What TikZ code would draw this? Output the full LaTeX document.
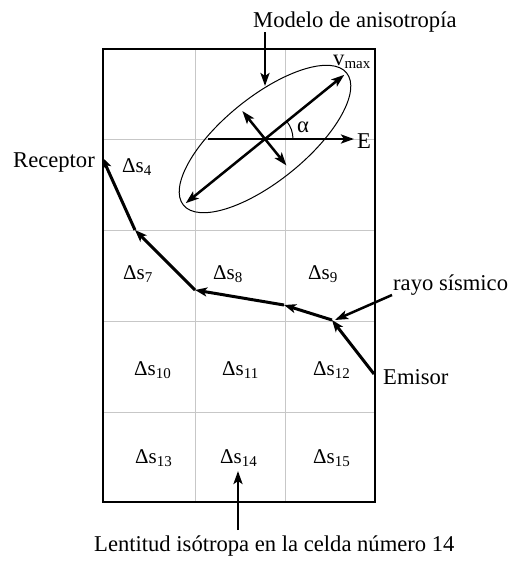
\documentclass[tikz,border=0pt]{standalone}
\usepackage{fontspec}
\setmainfont{Liberation Serif}
\usetikzlibrary{arrows.meta,calc,shapes.geometric}
\newcommand\csub[1]{\raisebox{-3pt}{\fontsize{15}{15}\selectfont #1}}
\begin{document}
\begin{tikzpicture}[x=1pt,y=-1pt,
  lbl/.style={inner sep=0pt, anchor=base west, font=\fontsize{22.6}{27}\selectfont},
  cel/.style={inner sep=0pt, anchor=base west, font=\fontsize{21}{25}\selectfont},
  gridline/.style={draw=black!22, line width=1pt},
  border/.style={draw=black, line width=1.5pt},
  tipped/.style={line width=2.5pt, -{Stealth[length=13pt,width=9pt,inset=3pt]}},
  dbl/.style={line width=2.5pt, {Stealth[length=13pt,width=9pt,inset=3pt]}-{Stealth[length=13pt,width=9pt,inset=3pt]}},
  ray/.style={line width=3pt, -{Stealth[length=12pt,width=9pt,inset=3pt]}},
  thin/.style={line width=1pt},
]
\useasboundingbox (0,0) rectangle (512,563);
% grid
\foreach \gx in {195,285} \draw[gridline] (\gx,49) -- (\gx,502);
\foreach \gy in {139,230,321,412} \draw[gridline] (103,\gy) -- (376,\gy);
\draw[border] (103,49) rectangle (375,502);
% ellipse model
\coordinate (C) at (265,139);
\node[ellipse, draw, thin, minimum width=210pt, minimum height=84pt, inner sep=0pt, rotate=39] (ell) at (C) {};
\coordinate (maj1) at ($(C)+(39:102pt)$);
\coordinate (maj2) at ($(C)+(219:102pt)$);
\coordinate (min1) at ($(C)+(129:36pt)$);
\coordinate (min2) at ($(C)+(309:34pt)$);
\draw[dbl] (maj2) -- (maj1);
\draw[dbl] (min1) -- (min2);
\coordinate (e1) at (208,139);
\coordinate (e2) at (354,139);
\draw[tipped] (e1) -- (e2);
\draw[thin] ($(C)+(0:28pt)$) arc[start angle=0, end angle=39, radius=28pt];
\node[lbl] (alpha) at (297,132) {α};
\node[lbl] (E) at (357,148) {E};
\node[lbl] (vmax) at (333,65) {v\csub{max}};
% top label
\node[lbl] (modelo) at (253,27) {Modelo de anisotropía};
\coordinate (mtop) at (265,32);
\coordinate (mtip) at (265,86);
\draw[tipped] (mtop) -- (mtip);
% ray path
\coordinate (p0) at (374,374);
\coordinate (p1) at (332,320);
\coordinate (p2) at (284,305);
\coordinate (p3) at (195,290);
\coordinate (p4) at (135,230);
\coordinate (p5) at (102,157);
\draw[ray] (p0) -- (p1);
\draw[ray] (p1) -- (p2);
\draw[ray] (p2) -- (p3);
\draw[ray] (p3) -- (p4);
\draw[ray] (p4) -- (p5);
\node[lbl] (receptor) at (13,167) {Receptor};
\node[lbl] (emisor) at (383,384) {Emisor};
\node[lbl] (rayo) at (393,290) {rayo sísmico};
\coordinate (rtail) at (392,295);
\draw[tipped] (rtail) -- ($(p1)+(3pt,0pt)$);
% cells
\node[cel] (s4) at (122,172) {Δs\csub{4}};
\node[cel] (s7) at (123,279) {Δs\csub{7}};
\node[cel] (s8) at (213,279) {Δs\csub{8}};
\node[cel] (s9) at (308,279) {Δs\csub{9}};
\node[cel] (s10) at (134,375) {Δs\csub{10}};
\node[cel] (s11) at (222,375) {Δs\csub{11}};
\node[cel] (s12) at (313,375) {Δs\csub{12}};
\node[cel] (s13) at (135,463) {Δs\csub{13}};
\node[cel] (s14) at (220,463) {Δs\csub{14}};
\node[cel] (s15) at (313,463) {Δs\csub{15}};
% bottom label
\node[lbl] (lentitud) at (94,551) {Lentitud isótropa en la celda número 14};
\coordinate (ltail) at (238,530);
\coordinate (ltip) at (238,471);
\draw[tipped] (ltail) -- (ltip);
\end{tikzpicture}
\end{document}
